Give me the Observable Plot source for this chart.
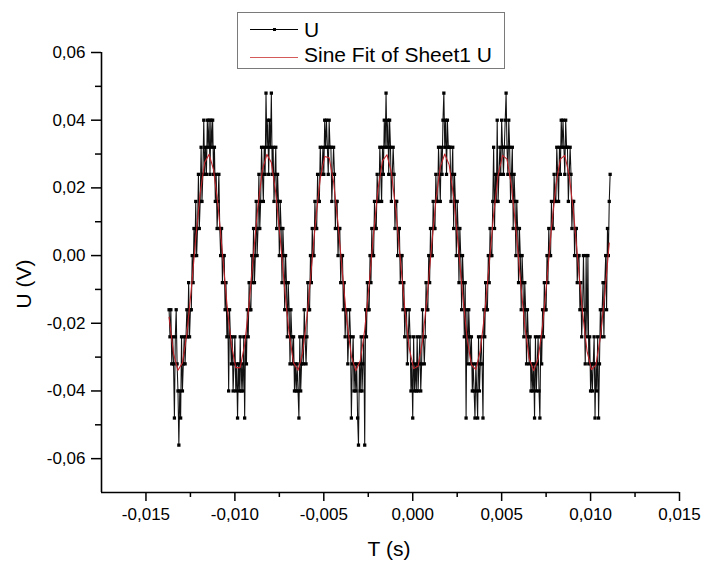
<!DOCTYPE html>
<html><head><meta charset="utf-8">
<script src="https://cdn.jsdelivr.net/npm/d3@7"></script>
<script src="https://cdn.jsdelivr.net/npm/@observablehq/plot@0.6"></script>
<style>
body{margin:0;background:#fff;}
#wrap{position:relative;width:703px;height:561px;font-family:"Liberation Sans",Arial,sans-serif;color:#000;overflow:hidden;}
#wrap svg{position:absolute;left:0;top:0;}
.t{position:absolute;white-space:nowrap;font-size:21px;line-height:21px;}
#legend{position:absolute;left:237px;top:12px;width:266px;height:55px;border:1px solid #7a7a7a;background:#fff;}
.lline{position:absolute;height:1px;}
.ldot{position:absolute;width:3px;height:3px;background:#000;}
</style></head><body>
<div id="wrap"></div>
<script>
// ---- data ----
const sampleStart = -0.0137;   // s, first sample time
const sampleStep = 0.00005;    // s, sampling interval
// measured U in mV (quantised in 8 mV steps), estimated from the picture
const uSamples_mV = [
-16,-24,-16,-32,-24,-32,-48,-24,-16,-32,
-40,-56,-40,-48,-24,-40,-32,-24,-32,-24,
-16,-24,-8,-24,-16,-16,0,-8,8,0,
16,0,8,24,8,16,32,16,24,40,
24,32,24,40,32,40,24,40,32,40,
24,32,16,24,8,16,24,8,0,8,
-8,0,0,-16,-8,-24,-16,-40,-16,-24,
-32,-24,-40,-32,-24,-40,-32,-48,-32,-40,
-24,-40,-32,-40,-24,-48,-24,-32,-16,-24,
-8,-16,-16,0,-8,8,-8,0,16,0,
8,24,8,16,32,24,16,32,24,48,
32,40,24,40,32,48,24,32,16,24,
32,8,24,16,0,16,8,-8,8,0,
-16,0,-8,-24,-8,-16,-32,-16,-24,-32,
-24,-40,-32,-40,-32,-40,-48,-24,-40,-32,
-24,-32,-16,-24,-32,-24,-8,-16,-16,0,
-8,8,0,0,16,8,8,24,16,16,
32,24,24,32,24,40,32,40,32,24,
40,32,32,16,24,32,24,8,16,16,
0,8,8,-8,0,0,-16,-8,-24,-16,
-16,-32,-24,-16,-24,-48,-32,-24,-40,-32,
-40,-32,-48,-56,-32,-40,-24,-40,-32,-24,
-56,-16,-24,-8,-16,-16,0,-8,8,0,
0,16,8,8,24,16,16,32,24,16,
32,24,40,32,48,32,40,24,40,32,
16,24,32,24,8,16,16,0,8,8,
-8,0,0,-16,-8,-24,-16,-16,-32,-24,
-16,-24,-40,-32,-48,-24,-40,-32,-40,-24,
-40,-32,-24,-40,-32,-16,-24,-32,-24,-8,
-16,-16,0,-8,8,0,0,16,8,8,
24,16,16,32,24,16,32,24,40,48,
32,40,24,40,32,32,32,16,24,32,
8,24,16,0,16,8,-8,8,0,-16,
0,-8,-24,-8,-48,-16,-32,-16,-24,-32,
-24,-40,-32,-40,-48,-32,-40,-48,-24,-40,
-32,-24,-32,-48,-16,-24,-8,-16,-16,0,
-8,8,0,0,16,32,8,24,16,40,
16,24,32,24,40,32,24,32,40,48,
32,24,40,32,16,24,32,8,24,16,
0,16,8,-8,8,0,-16,0,-8,-24,
-8,-16,-32,-16,-24,-32,-24,-40,-32,-40,
-32,-48,-24,-40,-32,-24,-40,-48,-24,-32,
-16,-24,-8,-16,-16,0,-8,8,0,0,
16,8,8,24,16,16,32,24,16,32,
24,40,32,40,32,24,40,32,32,16,
24,32,24,8,16,16,0,8,8,-8,
0,0,-16,-8,-24,-16,0,-16,-32,0,
-24,0,-32,-24,-40,-32,-40,-32,-24,-48,
-32,-40,-24,-48,-32,-16,-24,-16,-8,-24,
-8,0,-16,8,0,16,24
];
// sine-fit curve points (mV)
const fitStart = -0.0137;
const fitStep = 0.00025;
const fit_mV = [
-18.2,-29.0,-33.9,-31.7,-23.1,-9.9,5.1,18.5,27.5,29.9,
25.4,14.9,0.6,-14.2,-26.3,-33.1,-33.1,-26.3,-14.2,0.6,
14.9,25.4,29.9,27.5,18.5,5.1,-9.9,-23.1,-31.7,-33.9,
-29.0,-18.2,-3.9,10.9,22.8,29.3,28.9,21.8,9.4,-5.4,
-19.5,-29.8,-34.0,-31.1,-22.0,-8.4,6.6,19.7,28.0,29.8,
24.6,13.5,-0.9,-15.6,-27.3,-33.4,-32.7,-25.3,-12.7,2.2,
16.2,26.2,30.0,26.8,17.3,3.6,-11.3,-24.2,-32.3,-33.7,
-28.1,-16.9,-2.4,12.2,23.7,29.6,28.5,20.7,8.0,-6.9,
-20.8,-30.5,-34.0,-30.5,-20.7,-6.9,8.1,20.8,28.5,29.6,
23.7,12.2,-2.4,-16.9,-28.2,-33.7,-32.3,-24.2,-11.3,3.7
];
const xTicks = [-0.015,-0.01,-0.005,0,0.005,0.01,0.015];
const xMinorTicks = [-0.0125,-0.0075,-0.0025,0.0025,0.0075,0.0125];
const yTicks = [-0.06,-0.04,-0.02,0,0.02,0.04,0.06];
const yMinorTicks = [-0.05,-0.03,-0.01,0.01,0.03,0.05];
const xDomain = [-0.0175, 0.015];
const yDomain = [-0.07, 0.06];
const xLabel = "T (s)";
const yLabel = "U (V)";
const legendLabels = ["U", "Sine Fit of Sheet1 U"];
const dataColor = "#000";
const fitColor = "#c0242a";
const fitLegendColor = "#d45a5a";

// ---- build ----
const loc = d3.formatLocale({decimal: ",", thousands: ".", grouping: [3], currency: ["", ""], minus: "-"});
const fx = loc.format(".3f"), fy = loc.format(".2f");
const data = uSamples_mV.map((v, i) => ({t: sampleStart + i * sampleStep, u: v / 1000}));
const fit = fit_mV.map((v, k) => ({t: fitStart + k * fitStep, u: v / 1000}));

const chart = Plot.plot({
  width: 703, height: 561,
  marginLeft: 101, marginRight: 24, marginTop: 52, marginBottom: 69,
  style: {fontFamily: "'Liberation Sans', Arial, sans-serif", fontSize: "17px", color: "#000", background: "transparent", overflow: "visible"},
  x: {domain: xDomain, axis: null},
  y: {domain: yDomain, axis: null},
  marks: [
    Plot.line(data, {x: "t", y: "u", stroke: "#111", strokeWidth: 1.05}),
    Plot.dot(data, {x: "t", y: "u", symbol: "square", r: 1.85, fill: dataColor, stroke: "none"}),
    Plot.line(fit, {x: "t", y: "u", stroke: fitColor, strokeWidth: 1.1}),
    Plot.axisX(xTicks, {tickSize: 9, tickPadding: 6, tickFormat: fx, strokeWidth: 1.5, fontSize: 17, label: null}),
    Plot.axisX(xMinorTicks, {tickSize: 5, tickFormat: () => "", strokeWidth: 1.5, label: null}),
    Plot.axisY(yTicks, {tickSize: 10, tickPadding: 6, tickFormat: fy, strokeWidth: 1.5, fontSize: 17, label: null}),
    Plot.axisY(yMinorTicks, {tickSize: 6, tickFormat: () => "", strokeWidth: 1.5, label: null}),
    Plot.ruleX([xDomain[0]], {stroke: "#000", strokeWidth: 1.6}),
    Plot.ruleY([yDomain[0]], {stroke: "#000", strokeWidth: 1.6})
  ]
});

const wrap = document.getElementById("wrap");
wrap.appendChild(chart);

const yl = document.createElement("div");
yl.className = "t"; yl.textContent = yLabel;
yl.style.left = "22.7px"; yl.style.top = "284px";
yl.style.transform = "translate(-50%,-50%) rotate(-90deg)";
wrap.appendChild(yl);

const xl = document.createElement("div");
xl.className = "t"; xl.textContent = xLabel;
xl.style.left = "389px"; xl.style.top = "538px";
xl.style.transform = "translateX(-50%)";
wrap.appendChild(xl);

const lg = document.createElement("div");
lg.id = "legend";
lg.innerHTML =
  `<div class="lline" style="left:12px;top:16px;width:48px;background:${dataColor}"></div>` +
  `<div class="ldot" style="left:35px;top:15px"></div>` +
  `<div class="t" style="left:66px;top:6px"></div>` +
  `<div class="lline" style="left:12px;top:44px;width:48px;background:${fitLegendColor}"></div>` +
  `<div class="t" style="left:66px;top:31px"></div>`;
const lt = lg.querySelectorAll(".t");
lt[0].textContent = legendLabels[0];
lt[1].textContent = legendLabels[1];
wrap.appendChild(lg);
</script>
</body></html>
